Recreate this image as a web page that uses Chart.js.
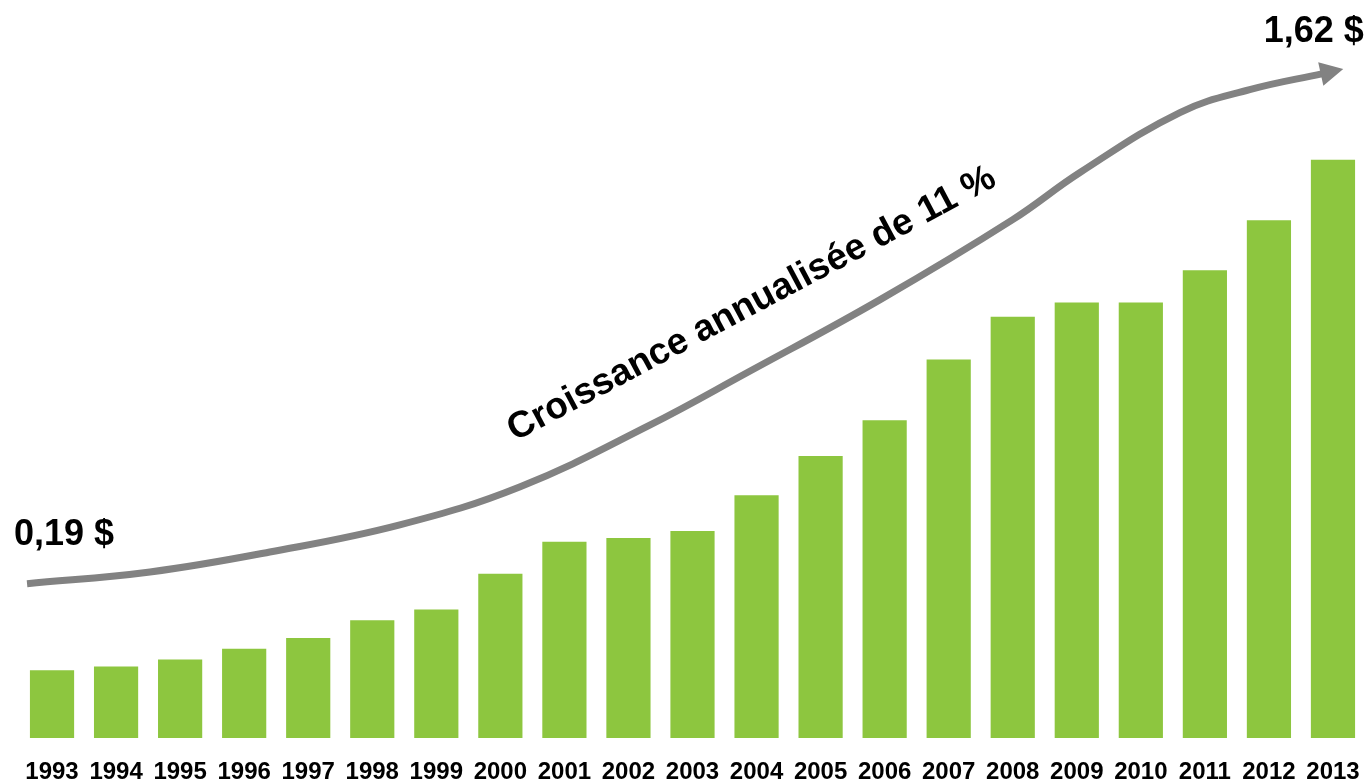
<!DOCTYPE html>
<html>
<head>
<meta charset="utf-8">
<script src="https://cdn.jsdelivr.net/npm/chart.js@4/dist/chart.umd.min.js"></script>
<style>
  html, body { margin: 0; padding: 0; background: #fff; overflow: hidden; }
  #wrap { width: 1367px; height: 782px; position: relative; }
</style>
</head>
<body>
<div id="wrap"><canvas id="myChart"></canvas></div>
<script>
var years = [1993, 1994, 1995, 1996, 1997, 1998, 1999, 2000, 2001, 2002, 2003,
             2004, 2005, 2006, 2007, 2008, 2009, 2010, 2011, 2012, 2013];
var dividends = [0.19, 0.20, 0.22, 0.25, 0.28, 0.33, 0.36, 0.46, 0.55, 0.56, 0.58,
                 0.68, 0.79, 0.89, 1.06, 1.18, 1.22, 1.22, 1.31, 1.45, 1.62];

// hand-drawn growth arrow (x in years, y in $)
var trendX = [1992.61, 1994.53, 1996.40, 1998.43, 2000.31, 2002.34, 2003.85,
              2005.93, 2008.00, 2009.05, 2010.61, 2011.70, 2012.84];
var trendY = [0.432, 0.465, 0.521, 0.597, 0.704, 0.877, 1.023,
              1.228, 1.452, 1.584, 1.752, 1.816, 1.861];

var startLabel = "0,19 $";
var endLabel = "1,62 $";
var growthLabel = "Croissance annualisée de 11 %";

var barColor = "#8dc63f";
var arrowColor = "#828282";

var barPoints = [];
for (var i = 0; i < years.length; i++) {
  barPoints.push({ x: years[i], y: dividends[i] });
}
var trendPoints = [];
for (var j = 0; j < trendX.length; j++) {
  trendPoints.push({ x: trendX[j], y: trendY[j] });
}

var annotate = {
  id: "annotate",
  afterDatasetsDraw: function(chart) {
    var ctx = chart.ctx;
    var pts = chart.getDatasetMeta(1).data;
    var a = pts[pts.length - 2], b = pts[pts.length - 1];
    var ang = Math.atan2(b.y - a.y, b.x - a.x);
    var dx = Math.cos(ang), dy = Math.sin(ang);

    // arrow head
    ctx.save();
    ctx.fillStyle = arrowColor;
    ctx.beginPath();
    ctx.moveTo(b.x + dx * 21, b.y + dy * 21);
    ctx.lineTo(b.x - dx * 2 - dy * 12, b.y - dy * 2 + dx * 12);
    ctx.lineTo(b.x - dx * 2 + dy * 12, b.y - dy * 2 - dx * 12);
    ctx.closePath();
    ctx.fill();

    ctx.fillStyle = "#000";
    ctx.font = "bold 36px 'Liberation Sans', Arial, sans-serif";
    ctx.textBaseline = "alphabetic";
    var p0 = pts[0];
    ctx.textAlign = "left";
    ctx.fillText(startLabel, p0.x - 13, p0.y - 39);
    ctx.textAlign = "right";
    ctx.fillText(endLabel, b.x + 41, b.y - 32);

    // slanted caption above the arrow
    var xs = chart.scales.x, ys = chart.scales.y;
    ctx.translate(xs.getPixelForValue(2004.0), ys.getPixelForValue(1.19));
    ctx.rotate(-28 * Math.PI / 180);
    ctx.textAlign = "center";
    ctx.font = "bold 37px 'Liberation Sans', Arial, sans-serif";
    ctx.fillText(growthLabel, 0, 0);
    ctx.restore();
  }
};

new Chart("myChart", {
  type: "bar",
  data: {
    datasets: [{
      data: barPoints,
      backgroundColor: barColor,
      barPercentage: 0.69,
      categoryPercentage: 1.0
    }, {
      type: "line",
      data: trendPoints,
      borderColor: arrowColor,
      borderWidth: 7,
      tension: 0.4,
      pointRadius: 0,
      fill: false
    }]
  },
  options: {
    responsive: true,
    maintainAspectRatio: false,
    animation: false,
    layout: { padding: { left: 20, right: 2, top: 24, bottom: -7 } },
    plugins: {
      legend: { display: false },
      tooltip: { enabled: false }
    },
    scales: {
      x: {
        type: "linear",
        min: 1992.5,
        max: 2013.5,
        offset: false,
        afterBuildTicks: function(scale) {
          scale.ticks = years.map(function(y) { return { value: y }; });
        },
        grid: { display: true, drawOnChartArea: false, drawTicks: true, tickLength: 17, color: "rgba(0,0,0,0)" },
        border: { display: false },
        ticks: {
          color: "#000",
          padding: 5,
          autoSkip: false,
          maxRotation: 0,
          callback: function(v) { return String(v); },
          font: { family: "'Liberation Sans', Arial, sans-serif", size: 24, weight: "bold", lineHeight: 1 }
        }
      },
      y: {
        display: false,
        min: 0,
        max: 2.0
      }
    }
  },
  plugins: [annotate]
});
</script>
</body>
</html>
